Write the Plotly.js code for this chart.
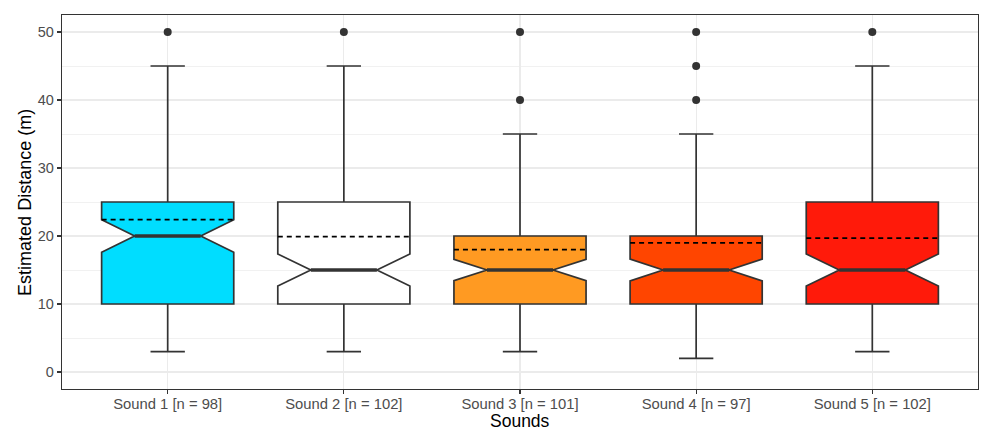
<!DOCTYPE html>
<html>
<head>
<meta charset="utf-8">
<script src="https://cdn.plot.ly/plotly-3.0.1.min.js"></script>
<style>html,body{margin:0;padding:0;background:#fff}#chart{width:981px;height:430px}</style>
</head>
<body>
<div id="chart"></div>
<script>
const sounds = ['Sound 1', 'Sound 2', 'Sound 3', 'Sound 4', 'Sound 5'];
const nCounts = [98, 102, 101, 97, 102];
const q1 = [10, 10, 10, 10, 10];
const medians = [20, 15, 15, 15, 15];
const q3 = [25, 25, 20, 20, 25];
const lowerWhisker = [3, 3, 3, 2, 3];
const upperWhisker = [45, 45, 35, 35, 45];
const means = [22.4, 19.9, 18.0, 19.0, 19.7];
const notchSpans = [2.4, 2.35, 1.57, 1.6, 2.35];
const outliers = [[50], [50], [40, 50], [40, 45, 50], [50]];
const fillColors = ['#00DDFF', '#FFFFFF', '#FF9A22', '#FF4500', '#FF1A0A'];
const xTitle = 'Sounds';
const yTitle = 'Estimated Distance (m)';

const tickLabels = sounds.map((s, i) => s + ' [n = ' + nCounts[i] + ']');
const positions = sounds.map((s, i) => i + 1);
const boxWidth = 0.75;
const outlineColor = '#333333';

const traces = [];
sounds.forEach((s, i) => {
  traces.push({
    type: 'box',
    name: s,
    x: [positions[i]],
    q1: [q1[i]],
    median: [medians[i]],
    q3: [q3[i]],
    lowerfence: [lowerWhisker[i]],
    upperfence: [upperWhisker[i]],
    notchspan: [notchSpans[i]],
    notched: true,
    notchwidth: 0.25,
    width: boxWidth,
    whiskerwidth: 0.26,
    boxpoints: false,
    fillcolor: fillColors[i],
    line: {color: outlineColor, width: 1.7},
    showlegend: false,
    hoverinfo: 'skip'
  });
});
// thick median segments (ggplot fatten)
sounds.forEach((s, i) => {
  const half = boxWidth / 4;
  traces.push({
    type: 'scatter', mode: 'lines',
    x: [positions[i] - half, positions[i] + half],
    y: [medians[i], medians[i]],
    line: {color: outlineColor, width: 3.4},
    showlegend: false, hoverinfo: 'skip'
  });
});
// dashed mean lines
sounds.forEach((s, i) => {
  const half = boxWidth / 2;
  traces.push({
    type: 'scatter', mode: 'lines',
    x: [positions[i] - half, positions[i] + half],
    y: [means[i], means[i]],
    line: {color: '#000000', width: 1.7, dash: '5px,4px'},
    showlegend: false, hoverinfo: 'skip'
  });
});
// outliers
const ox = [], oy = [];
outliers.forEach((arr, i) => arr.forEach(v => { ox.push(positions[i]); oy.push(v); }));
traces.push({
  type: 'scatter', mode: 'markers', x: ox, y: oy,
  marker: {color: '#333333', size: 8},
  showlegend: false, hoverinfo: 'skip'
});

const layout = {
  width: 981, height: 430,
  margin: {l: 62, r: 3, t: 15, b: 41},
  paper_bgcolor: '#FFFFFF', plot_bgcolor: '#FFFFFF',
  font: {family: 'Liberation Sans, Arial, sans-serif', color: '#000'},
  boxmode: 'overlay',
  showlegend: false,
  xaxis: {
    range: [0.4, 5.6],
    tickvals: positions, ticktext: tickLabels,
    showgrid: true, gridcolor: '#EBEBEB', gridwidth: 1.2,
    zeroline: false,
    ticks: 'outside', ticklen: 4, tickcolor: '#333333', tickwidth: 1.2,
    ticklabelstandoff: -3,
    tickfont: {size: 14.8, color: '#4D4D4D'},
    showline: true, mirror: true, linecolor: '#333333', linewidth: 1.3,
    automargin: false
  },
  yaxis: {
    range: [-2.5, 52.5],
    tickvals: [0, 10, 20, 30, 40, 50],
    showgrid: true, gridcolor: '#EBEBEB', gridwidth: 1.2,
    minor: {tickvals: [5, 15, 25, 35, 45], showgrid: true, gridcolor: '#EBEBEB', gridwidth: 0.7, ticks: ''},
    zeroline: false,
    ticks: 'outside', ticklen: 4, tickcolor: '#333333', tickwidth: 1.2,
    tickfont: {size: 14.5, color: '#4D4D4D'},
    showline: true, mirror: true, linecolor: '#333333', linewidth: 1.3,
    automargin: false
  },
  annotations: [
    {text: xTitle, xref: 'paper', yref: 'paper', x: 0.5, y: -0.085, xanchor: 'center', yanchor: 'middle',
     showarrow: false, font: {size: 17.5, color: '#000'}},
    {text: yTitle, xref: 'paper', yref: 'paper', x: -0.0405, y: 0.5, xanchor: 'center', yanchor: 'middle',
     textangle: -90, showarrow: false, font: {size: 18, color: '#000'}}
  ]
};

Plotly.newPlot('chart', traces, layout, {staticPlot: true, displayModeBar: false});
</script>
</body>
</html>
